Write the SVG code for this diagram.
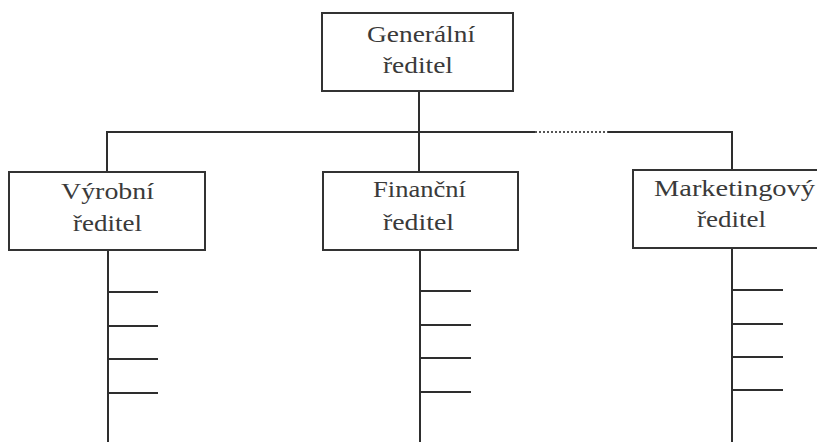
<svg xmlns="http://www.w3.org/2000/svg" width="817" height="442" viewBox="0 0 817 442">
  <style>
    .box { fill: #ffffff; stroke: #333333; stroke-width: 2; }
    .line { fill: none; stroke: #2e2e2e; stroke-width: 2; }
    .dots { fill: none; stroke: #555555; stroke-width: 2; stroke-dasharray: 2 2; }
    .label { font-family: 'Liberation Serif', 'Times New Roman', Times, serif; font-size: 24px; font-weight: normal; fill: #3a3a3a; }
  </style>
  <rect width="817" height="442" fill="#ffffff"/>

  <!-- connectors -->
  <g id="connectors">
    <line class="line" x1="107" y1="132" x2="535" y2="132"/>
    <line class="dots" x1="535" y1="132" x2="608" y2="132"/>
    <line class="line" x1="608" y1="132" x2="733" y2="132"/>
    <line class="line" x1="419" y1="91" x2="419" y2="172"/>
    <line class="line" x1="107" y1="131" x2="107" y2="172"/>
    <line class="line" x1="732" y1="131" x2="732" y2="170"/>

    <!-- branch under Výrobní ředitel -->
    <line class="line" x1="108" y1="250" x2="108" y2="442"/>
    <line class="line" x1="108" y1="292" x2="158" y2="292"/>
    <line class="line" x1="108" y1="326" x2="158" y2="326"/>
    <line class="line" x1="108" y1="359" x2="158" y2="359"/>
    <line class="line" x1="108" y1="393" x2="158" y2="393"/>

    <!-- branch under Finanční ředitel -->
    <line class="line" x1="420" y1="250" x2="420" y2="442"/>
    <line class="line" x1="420" y1="291" x2="471" y2="291"/>
    <line class="line" x1="420" y1="325" x2="471" y2="325"/>
    <line class="line" x1="420" y1="358" x2="471" y2="358"/>
    <line class="line" x1="420" y1="392" x2="471" y2="392"/>

    <!-- branch under Marketingový ředitel -->
    <line class="line" x1="732" y1="248" x2="732" y2="442"/>
    <line class="line" x1="732" y1="290" x2="783" y2="290"/>
    <line class="line" x1="732" y1="324" x2="783" y2="324"/>
    <line class="line" x1="732" y1="357" x2="783" y2="357"/>
    <line class="line" x1="732" y1="390" x2="783" y2="390"/>
  </g>

  <g id="generalni-reditel">
    <rect class="box" x="322" y="13" width="191" height="78"/>
    <text class="label" x="367" y="42" textLength="108" lengthAdjust="spacingAndGlyphs">Generální</text>
    <text class="label" x="383" y="73" textLength="70" lengthAdjust="spacingAndGlyphs">ředitel</text>
  </g>

  <g id="vyrobni-reditel">
    <rect class="box" x="9" y="172" width="196" height="78"/>
    <text class="label" x="61" y="199" textLength="93" lengthAdjust="spacingAndGlyphs">Výrobní</text>
    <text class="label" x="73" y="231" textLength="69" lengthAdjust="spacingAndGlyphs">ředitel</text>
  </g>

  <g id="financni-reditel">
    <rect class="box" x="323" y="172" width="195" height="78"/>
    <text class="label" x="373" y="197" textLength="93" lengthAdjust="spacingAndGlyphs">Finanční</text>
    <text class="label" x="383" y="230" textLength="71" lengthAdjust="spacingAndGlyphs">ředitel</text>
  </g>

  <g id="marketingovy-reditel">
    <rect class="box" x="633" y="170" width="200" height="78"/>
    <text class="label" x="654" y="196" textLength="161" lengthAdjust="spacingAndGlyphs">Marketingový</text>
    <text class="label" x="697" y="227" textLength="69" lengthAdjust="spacingAndGlyphs">ředitel</text>
  </g>
</svg>
